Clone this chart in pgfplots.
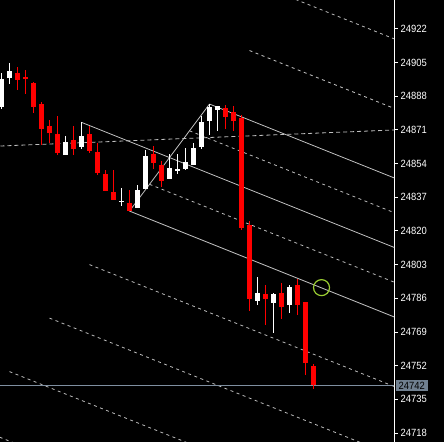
\documentclass[border=0pt]{standalone}
\usepackage{pgfplots}
\usepackage{pgfplotstable}
\usepackage{fontspec}
\setmainfont{Liberation Sans}[FakeStretch=0.9]
\pgfplotsset{compat=1.18}

\definecolor{bull}{HTML}{FFFFFF}
\definecolor{bear}{HTML}{FF0000}
\definecolor{chan}{HTML}{C0C0C0}
\definecolor{priceline}{HTML}{7F8FA0}
\definecolor{pricebox}{HTML}{708090}
\definecolor{ring}{HTML}{9ACD32}

% bar  open  high  low  close
\pgfplotstableread{
x  o        h        l        c
0  24882.6  24899.8  24881.6  24896.7
1  24897.3  24904.8  24894.2  24900.8
8  24858.4  24868.0  24858.4  24864.9
10 24862.4  24875.0  24861.4  24868.0
15 24835.1  24841.7  24832.6  24835.1
17 24831.6  24843.2  24831.6  24840.7
18 24841.2  24860.9  24841.2  24857.9
21 24846.2  24858.9  24846.2  24851.8
22 24850.8  24858.9  24848.8  24850.8
23 24851.3  24861.9  24850.8  24854.8
24 24853.3  24864.4  24853.3  24861.9
25 24862.4  24878.1  24861.4  24875.0
26 24875.5  24884.1  24868.5  24882.6
27 24881.1  24883.1  24870.5  24883.1
32 24784.6  24796.8  24782.6  24788.7
34 24783.6  24788.7  24768.5  24788.2
36 24782.6  24792.7  24778.6  24791.7
}\bulltable

\pgfplotstableread{
x  o        h        l        c
2  24899.8  24902.8  24891.2  24896.2
3  24897.8  24901.3  24889.2  24896.7
4  24894.7  24895.2  24879.6  24882.6
5  24884.1  24885.1  24863.4  24871.5
6  24873.0  24876.0  24864.4  24869.5
7  24869.0  24878.1  24858.4  24859.4
9  24865.9  24873.0  24858.4  24861.4
11 24869.0  24873.0  24859.4  24860.4
12 24859.9  24864.4  24848.3  24849.3
13 24848.8  24850.8  24840.2  24840.2
14 24839.7  24850.8  24835.6  24835.6
16 24834.1  24840.7  24830.1  24830.1
19 24858.9  24862.9  24851.3  24854.3
20 24853.3  24855.3  24842.2  24845.2
28 24882.1  24883.6  24871.5  24877.6
29 24880.1  24883.1  24870.5  24875.5
30 24877.1  24878.6  24820.5  24821.5
31 24823.0  24825.0  24779.6  24785.6
33 24788.2  24792.7  24772.5  24785.6
35 24788.7  24793.7  24775.5  24781.6
37 24792.7  24795.7  24777.6  24782.6
38 24784.1  24784.1  24747.3  24753.3
39 24751.8  24752.8  24740.2  24742.0
}\beartable

\pgfplotsset{
  wick/.style={draw=none, mark=none, forget plot,
    error bars/.cd, y dir=both, y explicit, error mark=none,
    error bar style={draw=#1, line width=1bp}},
  body/.style={draw=none, mark=none, forget plot,
    error bars/.cd, y dir=both, y explicit, error mark=none,
    error bar style={draw=#1, line width=5bp}},
  chansolid/.style={draw=chan, line width=0.8bp, forget plot},
  chandash/.style={draw=chan, line width=0.8bp, dash pattern=on 3bp off 3.5bp, forget plot},
}

\begin{document}
\begin{tikzpicture}
\fill[black] (0,0) rectangle (444bp,442bp);
\begin{axis}[
  width=394bp, height=442bp, scale only axis,
  xmin=-0.1875, xmax=49.06,
  ymin=24713.46, ymax=24936.64,
  axis x line=none,
  axis y line*=right,
  y axis line style={draw=white, line width=1bp, -},
  ytick pos=right, yticklabel pos=right,
  tick align=outside, major tick length=4bp,
  ytick style={draw=white, line width=1bp},
  ytick={24718,24735,24752,24769,24786,24803,24820,24837,24854,24871,24888,24905,24922},
  yticklabels={24718,24735,24752,24769,24786,24803,24820,24837,24854,24871,24888,24905,24922},
  yticklabel style={font=\fontsize{10.5}{10.5}\selectfont, text=white, inner sep=1bp, xshift=1.5bp},
  extra y ticks={24742},
  extra y tick labels={24742},
  extra y tick style={major tick length=0bp,
    yticklabel style={fill=pricebox, text=black, inner xsep=3bp, inner ysep=2bp, xshift=0bp}},
]
% channel levels
\addplot[chandash] coordinates {(36,24938.14) (50,24915.52)};
\addplot[chandash] coordinates {(31,24911.12) (50,24880.42)};
\addplot[chansolid] coordinates {(26,24884.10) (50,24845.32)};
\addplot[chandash] coordinates {(23.5,24870.59) (50,24827.77)};
\addplot[chansolid] coordinates {(10,24874.86) (50,24810.22)};
\addplot[chandash] coordinates {(18.5,24843.57) (50,24792.67)};
\addplot[chansolid] coordinates {(16,24830.06) (50,24775.12)};
\addplot[chandash] coordinates {(11,24803.04) (50,24740.02)};
\addplot[chandash] coordinates {(6,24776.02) (50,24704.92)};
\addplot[chandash] coordinates {(1,24749.00) (50,24669.82)};
\addplot[chandash] coordinates {(-4,24721.98) (50,24634.72)};
\addplot[chansolid] coordinates {(16,24830.06) (26,24884.10)};
% near-flat dashed line
\addplot[draw=chan, line width=0.8bp, dash pattern=on 4bp off 3bp, forget plot]
  coordinates {(-1,24862.77) (50,24871.16)};
% current price line
\addplot[draw=priceline, line width=1bp, forget plot]
  coordinates {(-1,24742) (50,24742)};
% candles
\addplot[wick=bull] table[x=x, y expr={(\thisrow{h}+\thisrow{l})/2},
  y error expr={(\thisrow{h}-\thisrow{l})/2}] {\bulltable};
\addplot[wick=bear] table[x=x, y expr={(\thisrow{h}+\thisrow{l})/2},
  y error expr={(\thisrow{h}-\thisrow{l})/2}] {\beartable};
\addplot[body=bull] table[x=x, y expr={(\thisrow{o}+\thisrow{c})/2},
  y error expr={max(abs(\thisrow{o}-\thisrow{c})/2,0.3)}] {\bulltable};
\addplot[body=bear] table[x=x, y expr={(\thisrow{o}+\thisrow{c})/2},
  y error expr={max(abs(\thisrow{o}-\thisrow{c})/2,0.3)}] {\beartable};
% marked touch point
\addplot[only marks, mark=o, mark size=8bp, mark options={draw=ring, line width=1.2bp}, forget plot]
  coordinates {(40,24791.4)};
\end{axis}
\pgfresetboundingbox
\path[use as bounding box] (0,0) rectangle (444bp,442bp);
\end{tikzpicture}
\end{document}
